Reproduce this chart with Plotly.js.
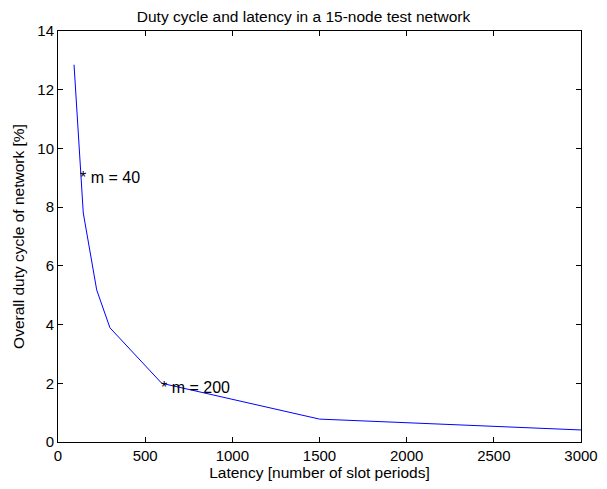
<!DOCTYPE html>
<html>
<head>
<meta charset="utf-8">
<script src="https://cdn.plot.ly/plotly-3.0.1.min.js"></script>
<style>html,body{margin:0;padding:0;background:#fff;}#chart{width:607px;height:489px;}</style>
</head>
<body>
<div id="chart"></div>
<script>
const latency = [92, 130, 145, 222, 298, 595, 1500, 3000];
const dutyCycle = [12.85, 9.15, 7.8, 5.18, 3.89, 2.0, 0.78, 0.41];
const labelX = [130, 595];
const labelY = [9.15, 2.0];
const labelText = ['* m = 40', '* m = 200'];
const xTicks = [0, 500, 1000, 1500, 2000, 2500, 3000];
const yTicks = [0, 2, 4, 6, 8, 10, 12, 14];

const fam = 'Liberation Sans, Arial, sans-serif';
const tickFont = {family: fam, size: 15, color: '#000'};
const titleFont = {family: fam, size: 15.5, color: '#000'};
const annFont = {family: fam, size: 16, color: '#000'};

const trace = {
  x: latency, y: dutyCycle, type: 'scatter', mode: 'lines',
  line: {color: '#0000ff', width: 1}, hoverinfo: 'none'
};

const axisCommon = {
  showgrid: false, zeroline: false, showline: true, linecolor: '#000', linewidth: 1,
  mirror: 'ticks', ticks: 'inside', ticklen: 5, tickcolor: '#000', tickwidth: 1,
  tickfont: tickFont
};

const layout = {
  width: 607, height: 489,
  margin: {l: 58, r: 26, t: 31, b: 47},
  paper_bgcolor: '#fff', plot_bgcolor: '#fff',
  font: tickFont,
  showlegend: false,
  title: {text: 'Duty cycle and latency in a 15-node test network', font: titleFont,
          x: 0.5, xanchor: 'center', y: 1, yref: 'paper', yanchor: 'bottom', pad: {b: 9}},
  xaxis: Object.assign({}, axisCommon, {
    range: [0, 3000], tickvals: xTicks, ticktext: xTicks.map(String),
    title: {text: 'Latency [number of slot periods]', font: titleFont, standoff: 2}
  }),
  yaxis: Object.assign({}, axisCommon, {
    range: [0, 14], tickvals: yTicks, ticktext: yTicks.map(String),
    title: {text: 'Overall duty cycle of network [%]', font: titleFont, standoff: 8}
  }),
  annotations: labelText.map((t, i) => ({
    x: labelX[i], y: labelY[i], xref: 'x', yref: 'y', text: t, showarrow: false,
    xanchor: 'left', yanchor: 'middle', xshift: -3, yshift: -4, font: annFont
  }))
};

Plotly.newPlot('chart', [trace], layout, {displayModeBar: false, staticPlot: true});
</script>
</body>
</html>
